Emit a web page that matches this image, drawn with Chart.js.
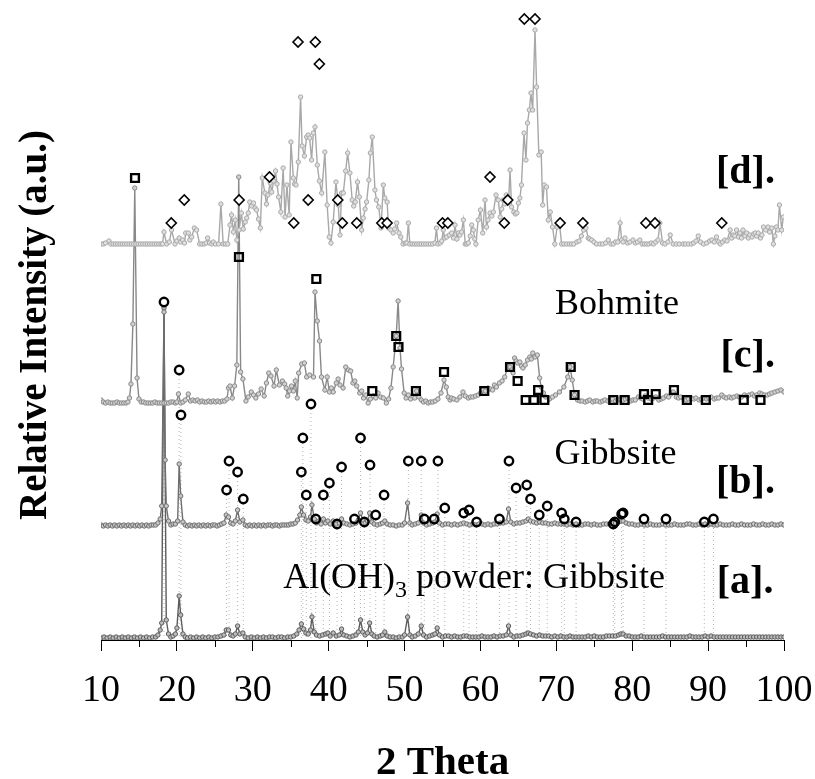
<!DOCTYPE html>
<html>
<head>
<meta charset="utf-8">
<script src="https://cdn.jsdelivr.net/npm/chart.js@4/dist/chart.umd.min.js"></script>
<style>
  html, body { margin: 0; padding: 0; background: #fff; }
  #xrd { display: block; }
</style>
</head>
<body>
<canvas id="xrd" width="815" height="779"></canvas>
<script>
// XRD patterns [a]..[d], stacked. Each pattern: [2θ, height above its own baseline]
const offsets = { a: 2, b: 113, c: 237, d: 396 };

const patternA = [[10.0,0],[10.4,1],[10.8,0],[11.2,1],[11.6,0],[12.0,1],[12.4,0],[12.8,1],[13.2,0],[13.6,1],[14.0,0],[14.4,1],[14.8,0],[15.2,1],[15.6,0],[16.0,1],[16.4,0],[16.8,1],[17.2,1],[17.5,3],[17.8,8],[18.0,15],[18.3,330],[18.6,18],[18.9,4],[19.2,1],[19.5,2],[19.8,4],[20.0,10],[20.3,42],[20.5,23],[20.8,4],[21.1,1],[21.4,0],[21.8,1],[22.2,0],[22.6,1],[23.0,0],[23.4,1],[23.8,0],[24.2,1],[24.6,0],[25.0,1],[25.4,1],[25.8,2],[26.2,3],[26.5,8],[26.8,8],[27.1,3],[27.4,2],[27.7,4],[28.0,12],[28.3,4],[28.7,5],[29.0,1],[29.4,0],[29.8,1],[30.2,0],[30.6,1],[31.0,0],[31.4,1],[31.8,0],[32.2,1],[32.6,1],[33.0,0],[33.4,1],[33.8,1],[34.2,0],[34.6,1],[35.0,1],[35.4,2],[35.8,4],[36.1,8],[36.4,14],[36.7,9],[37.0,5],[37.3,4],[37.6,8],[37.8,21],[38.1,6],[38.4,3],[38.8,2],[39.2,3],[39.6,4],[39.9,5],[40.2,2],[40.6,5],[41.0,2],[41.4,3],[41.7,9],[42.0,3],[42.4,2],[42.8,1],[43.2,2],[43.6,3],[43.9,6],[44.2,18],[44.5,6],[44.8,3],[45.1,5],[45.4,15],[45.7,4],[46.0,2],[46.4,1],[46.8,2],[47.1,3],[47.4,6],[47.7,2],[48.1,1],[48.5,1],[48.9,0],[49.3,1],[49.7,1],[50.0,3],[50.4,21],[50.7,3],[51.0,1],[51.4,2],[51.8,4],[52.2,12],[52.5,3],[52.9,1],[53.3,2],[53.7,3],[54.0,4],[54.3,10],[54.6,3],[55.0,1],[55.4,2],[55.8,2],[56.2,1],[56.6,2],[57.0,1],[57.4,1],[57.8,2],[58.2,2],[58.6,1],[59.0,1],[59.4,1],[59.8,1],[60.2,2],[60.6,1],[61.0,1],[61.4,1],[61.8,2],[62.2,1],[62.6,2],[63.0,2],[63.4,3],[63.7,12],[64.0,3],[64.4,1],[64.8,2],[65.2,2],[65.6,3],[66.0,4],[66.3,5],[66.6,4],[67.0,3],[67.4,2],[67.8,3],[68.2,2],[68.6,2],[69.0,2],[69.4,1],[69.8,2],[70.2,1],[70.6,2],[71.0,1],[71.4,1],[71.8,2],[72.2,1],[72.6,1],[73.0,1],[73.4,1],[73.8,1],[74.2,2],[74.6,1],[75.0,2],[75.4,1],[75.8,1],[76.2,1],[76.6,2],[77.0,2],[77.4,2],[77.8,2],[78.2,3],[78.5,4],[78.8,4],[79.2,2],[79.6,2],[80.0,1],[80.4,1],[80.8,1],[81.2,2],[81.6,1],[82.0,1],[82.4,1],[82.8,1],[83.2,1],[83.6,1],[84.0,2],[84.4,1],[84.8,1],[85.2,1],[85.6,1],[86.0,1],[86.4,1],[86.8,1],[87.2,1],[87.6,2],[88.0,1],[88.4,1],[88.8,1],[89.2,1],[89.6,2],[90.0,1],[90.4,2],[90.8,1],[91.2,1],[91.6,1],[92.0,1],[92.4,1],[92.8,1],[93.2,1],[93.6,1],[94.0,1],[94.4,1],[94.8,1],[95.2,1],[95.6,1],[96.0,1],[96.4,1],[96.8,1],[97.2,1],[97.6,1],[98.0,1],[98.4,1],[98.8,1],[99.2,1],[99.6,1],[100,1]];

const patternB = [[10.0,2],[10.3,1],[10.6,2],[10.9,1],[11.2,2],[11.5,1],[11.8,2],[12.1,1],[12.4,2],[12.7,1],[13.0,2],[13.3,1],[13.6,2],[13.9,1],[14.2,2],[14.5,1],[14.8,2],[15.1,1],[15.4,2],[15.7,1],[16.0,2],[16.3,1],[16.6,2],[16.9,2],[17.2,2],[17.5,4],[17.8,8],[18.0,21],[18.3,215],[18.45,67],[18.6,21],[18.9,6],[19.2,2],[19.5,3],[19.8,3],[20.1,6],[20.3,63],[20.5,31],[20.8,5],[21.1,2],[21.4,1],[21.7,2],[22.0,1],[22.3,2],[22.6,1],[22.9,2],[23.2,1],[23.5,2],[23.8,1],[24.1,2],[24.4,1],[24.7,2],[25.0,2],[25.3,1],[25.6,2],[25.9,3],[26.2,4],[26.5,12],[26.8,10],[27.1,4],[27.4,3],[27.7,6],[28.0,17],[28.3,5],[28.7,7],[29.0,2],[29.3,1],[29.6,2],[29.9,1],[30.2,2],[30.5,1],[30.8,2],[31.1,1],[31.4,2],[31.7,1],[32.0,2],[32.3,2],[32.6,1],[32.9,2],[33.2,2],[33.5,1],[33.8,2],[34.1,2],[34.4,2],[34.7,2],[35.0,3],[35.3,3],[35.6,4],[35.9,7],[36.2,12],[36.4,20],[36.7,12],[37.0,7],[37.3,6],[37.6,10],[37.8,22],[38.1,8],[38.4,4],[38.7,6],[39.0,3],[39.3,8],[39.6,4],[39.9,6],[40.2,3],[40.6,6],[41.0,3],[41.4,4],[41.7,8],[42.0,4],[42.4,3],[42.8,2],[43.2,3],[43.6,4],[43.9,7],[44.2,14],[44.5,7],[44.8,4],[45.1,6],[45.4,14],[45.7,5],[46.0,3],[46.4,2],[46.8,3],[47.1,4],[47.4,6],[47.7,3],[48.1,2],[48.5,2],[48.9,1],[49.3,2],[49.7,2],[50.0,4],[50.4,24],[50.7,4],[51.0,2],[51.4,3],[51.8,4],[52.2,12],[52.5,4],[52.9,2],[53.3,3],[53.7,4],[54.0,5],[54.3,13],[54.6,4],[55.0,2],[55.4,3],[55.8,3],[56.2,2],[56.6,3],[57.0,2],[57.4,3],[57.8,4],[58.2,3],[58.6,2],[59.0,3],[59.4,2],[59.8,3],[60.2,3],[60.6,2],[61.0,3],[61.4,2],[61.8,3],[62.2,3],[62.6,4],[63.0,4],[63.4,5],[63.7,18],[64.0,5],[64.4,3],[64.8,4],[65.2,4],[65.6,5],[66.0,6],[66.3,8],[66.6,6],[67.0,5],[67.4,4],[67.8,5],[68.2,4],[68.6,4],[69.0,3],[69.4,3],[69.8,4],[70.2,3],[70.6,3],[71.0,3],[71.4,2],[71.8,3],[72.2,2],[72.6,3],[73.0,2],[73.4,2],[73.8,3],[74.2,3],[74.6,2],[75.0,3],[75.4,2],[75.8,2],[76.2,3],[76.6,3],[77.0,3],[77.4,4],[77.8,4],[78.2,5],[78.5,6],[78.8,6],[79.2,4],[79.6,3],[80.0,3],[80.4,2],[80.8,2],[81.2,3],[81.6,2],[82.0,2],[82.4,3],[82.8,2],[83.2,2],[83.6,2],[84.0,3],[84.4,2],[84.8,2],[85.2,2],[85.6,3],[86.0,2],[86.4,2],[86.8,2],[87.2,3],[87.6,3],[88.0,2],[88.4,2],[88.8,3],[89.2,2],[89.6,3],[90.0,2],[90.4,3],[90.8,2],[91.2,2],[91.6,3],[92.0,2],[92.4,2],[92.8,2],[93.2,3],[93.6,2],[94.0,2],[94.4,3],[94.8,2],[95.2,2],[95.6,2],[96.0,3],[96.4,2],[96.8,2],[97.2,3],[97.6,2],[98.0,2],[98.4,3],[98.8,2],[99.2,2],[99.6,3],[100,2]];

const patternC = [[10.0,3],[10.3,1],[10.6,0],[10.9,1],[11.2,0],[11.5,0],[11.8,0],[12.1,1],[12.4,0],[12.7,0],[13.0,0],[13.3,0],[13.55,1],[13.75,5],[13.95,19],[14.2,79],[14.45,215],[14.75,25],[15.0,4],[15.3,1],[15.6,1],[15.9,0],[16.2,0],[16.5,0],[16.8,0],[17.1,1],[17.4,0],[17.7,0],[18.0,0],[18.3,0],[18.6,0],[18.9,0],[19.2,1],[19.5,1],[19.8,0],[20.0,1],[20.2,9],[20.5,0],[20.8,1],[21.1,3],[21.5,9],[21.8,2],[22.1,3],[22.4,2],[22.7,3],[23.0,1],[23.3,2],[23.6,1],[23.9,1],[24.2,2],[24.5,1],[24.8,2],[25.1,1],[25.4,2],[25.7,1],[26.0,2],[26.3,2],[26.6,4],[26.8,15],[27.0,17],[27.3,5],[27.6,17],[27.9,38],[28.15,226],[28.4,31],[28.7,24],[29.1,2],[29.4,6],[29.8,11],[30.1,8],[30.4,5],[30.75,9],[31.1,14],[31.5,7],[31.8,20],[32.1,30],[32.4,27],[32.8,17],[33.1,33],[33.5,18],[33.9,22],[34.2,19],[34.4,15],[34.6,7],[34.85,12],[35.1,17],[35.35,12],[35.6,22],[35.85,5],[36.05,30],[36.45,39],[36.8,40],[37.1,26],[37.5,28],[38.0,26],[38.2,111],[38.5,82],[38.8,62],[39.05,26],[39.5,13],[39.8,26],[40.1,11],[40.35,15],[40.6,11],[41.0,20],[41.25,24],[41.5,18],[41.9,15],[42.25,36],[42.6,33],[42.9,32],[43.2,20],[43.45,22],[43.7,17],[44.1,10],[44.35,12],[44.6,5],[44.9,8],[45.2,0],[45.5,4],[45.9,7],[46.2,5],[46.5,10],[46.85,6],[47.2,5],[47.6,0],[47.9,4],[48.2,15],[48.5,36],[48.9,67],[49.15,102],[49.4,55],[49.6,34],[49.95,10],[50.2,5],[50.5,8],[50.8,4],[51.1,7],[51.35,5],[51.6,12],[51.9,6],[52.2,3],[52.5,1],[52.8,2],[53.1,0],[53.4,1],[53.7,1],[54.05,2],[54.4,4],[54.8,10],[55.2,23],[55.5,16],[55.75,6],[56.0,3],[56.2,5],[56.5,4],[56.9,3],[57.3,6],[57.7,11],[58.0,7],[58.4,5],[58.7,6],[59.0,6],[59.35,7],[59.7,8],[60.0,10],[60.3,13],[60.65,12],[61.0,15],[61.3,14],[61.6,13],[61.85,18],[62.1,16],[62.5,20],[62.85,22],[63.2,26],[63.6,36],[63.9,36],[64.1,33],[64.3,30],[64.5,45],[64.7,42],[64.9,40],[65.2,41],[65.4,37],[65.6,35],[65.9,38],[66.2,43],[66.5,46],[66.7,44],[66.9,50],[67.2,46],[67.5,48],[67.8,25],[68.0,16],[68.3,10],[68.6,6],[69.1,4],[69.5,6],[69.9,8],[70.4,11],[71.0,16],[71.5,26],[71.8,36],[72.1,23],[72.4,8],[72.8,3],[73.1,2],[73.4,2],[73.8,1],[74.1,2],[74.4,3],[74.8,1],[75.1,2],[75.4,2],[75.8,1],[76.1,2],[76.4,3],[76.8,2],[77.1,3],[77.4,4],[77.8,2],[78.1,3],[78.4,4],[78.8,3],[79.1,4],[79.4,5],[79.8,2],[80.1,3],[80.4,3],[80.8,6],[81.1,5],[81.4,4],[81.7,7],[82.1,5],[82.5,4],[82.8,5],[83.1,6],[83.5,3],[83.8,4],[84.1,5],[84.5,7],[84.8,6],[85.1,9],[85.4,11],[85.8,6],[86.1,5],[86.4,6],[86.8,4],[87.1,3],[87.4,4],[87.8,5],[88.1,4],[88.4,5],[88.8,3],[89.1,4],[89.4,5],[89.8,4],[90.1,5],[90.4,6],[90.8,4],[91.1,5],[91.4,5],[91.8,8],[92.1,6],[92.4,5],[92.8,6],[93.1,5],[93.4,6],[93.8,7],[94.1,6],[94.4,6],[94.8,8],[95.1,7],[95.4,8],[95.8,9],[96.1,7],[96.4,8],[96.8,10],[97.1,9],[97.4,8],[97.8,8],[98.1,9],[98.4,10],[98.8,11],[99.2,12],[99.6,13],[100,11]];

const patternD = [[10.0,0],[10.3,0],[10.6,1],[11.05,3],[11.3,0],[11.6,0],[11.9,0],[12.2,0],[12.5,0],[12.8,0],[13.1,0],[13.4,0],[13.7,0],[14.0,0],[14.3,0],[14.6,0],[14.9,0],[15.2,0],[15.5,0],[15.8,0],[16.1,0],[16.4,0],[16.7,0],[17.0,0],[17.3,0],[17.6,0],[17.9,0],[18.1,0],[18.3,12],[18.65,0],[19.0,2],[19.3,14],[19.75,0],[20.0,3],[20.3,6],[20.5,2],[20.76,4],[21.0,1],[21.16,11],[21.5,11],[21.7,4],[21.95,7],[22.3,16],[22.6,14],[23.0,0],[23.3,0],[23.6,0],[23.85,1],[24.05,6],[24.3,1],[24.6,0],[24.8,2],[25.1,0],[25.5,0],[25.8,40],[26.1,0],[26.4,0],[26.7,0],[27.0,19],[27.2,29],[27.45,12],[27.7,24],[27.9,4],[28.2,14],[28.5,31],[28.75,15],[29.0,22],[29.2,26],[29.4,31],[29.6,42],[29.85,38],[30.1,41],[30.3,36],[30.5,34],[30.75,25],[31.0,16],[31.25,66],[31.6,51],[31.8,40],[32.0,49],[32.3,61],[32.5,52],[32.75,63],[33.0,73],[33.2,60],[33.4,47],[33.7,32],[34.0,76],[34.25,27],[34.5,59],[34.8,29],[35.03,102],[35.35,66],[35.5,60],[35.7,59],[36.0,82],[36.3,147],[36.5,98],[36.8,88],[37.1,107],[37.3,109],[37.5,106],[37.75,84],[37.98,111],[38.2,117],[38.5,79],[38.77,63],[39.08,51],[39.5,92],[39.8,39],[40.08,7],[40.3,1],[40.6,22],[40.96,62],[41.27,39],[41.5,9],[41.7,51],[41.93,51],[42.24,73],[42.5,91],[42.8,71],[43.1,44],[43.3,38],[43.5,42],[43.8,62],[44.04,47],[44.35,14],[44.56,26],[44.8,35],[45.0,42],[45.3,64],[45.5,91],[45.75,107],[46.1,54],[46.3,44],[46.6,37],[46.9,16],[47.2,59],[47.4,46],[47.7,42],[47.9,16],[48.2,14],[48.5,11],[48.7,15],[48.96,21],[49.27,11],[49.5,7],[49.8,0],[50.1,1],[50.3,1],[50.5,21],[50.7,0],[51.0,0],[51.3,0],[51.6,0],[51.9,0],[52.2,0],[52.5,0],[52.8,0],[53.1,0],[53.4,0],[53.7,0],[54.0,1],[54.2,16],[54.4,0],[54.7,1],[54.9,3],[55.1,14],[55.3,6],[55.55,7],[55.9,9],[56.2,11],[56.45,6],[56.65,19],[56.9,5],[57.1,11],[57.3,9],[57.5,12],[57.75,24],[58.0,0],[58.2,0],[58.4,1],[58.65,8],[58.85,19],[59.06,14],[59.25,5],[59.4,0],[59.7,24],[60.0,34],[60.3,11],[60.6,44],[60.8,17],[61.0,24],[61.26,31],[61.5,28],[61.7,32],[62.05,49],[62.35,44],[62.6,27],[62.8,35],[63.0,44],[63.2,40],[63.4,49],[63.7,42],[63.9,74],[64.1,37],[64.4,32],[64.6,30],[64.8,31],[65.0,41],[65.2,46],[65.4,59],[65.74,111],[66.0,84],[66.2,121],[66.44,134],[66.66,151],[66.88,134],[67.19,214],[67.4,157],[67.7,89],[68.0,92],[68.2,39],[68.4,59],[68.7,57],[68.94,24],[69.2,32],[69.5,17],[69.8,0],[70.1,17],[70.4,21],[70.7,0],[71.0,0],[71.36,0],[71.7,0],[72.0,0],[72.3,0],[72.7,2],[73.0,3],[73.3,8],[73.6,14],[73.9,16],[74.2,6],[74.4,5],[74.65,4],[74.96,2],[75.3,0],[75.75,0],[76.1,0],[76.5,1],[76.85,4],[77.2,0],[77.5,0],[77.8,2],[78.1,2],[78.4,21],[78.6,4],[78.8,2],[79.05,6],[79.4,1],[79.7,2],[80.1,4],[80.4,1],[80.7,2],[81.0,4],[81.3,0],[81.6,0],[81.9,0],[82.2,0],[82.5,1],[82.8,0],[83.1,2],[83.4,4],[83.65,21],[84.0,1],[84.3,0],[84.7,2],[85.0,9],[85.4,0],[85.8,0],[86.2,0],[86.7,0],[87.0,0],[87.4,0],[87.8,0],[88.1,1],[88.4,3],[88.7,8],[89.0,2],[89.4,0],[89.8,1],[90.2,3],[90.5,4],[90.8,2],[91.1,7],[91.4,2],[91.6,0],[91.9,2],[92.2,4],[92.5,3],[92.9,14],[93.1,6],[93.3,9],[93.5,8],[93.75,14],[94.0,7],[94.2,11],[94.4,6],[94.6,14],[94.85,8],[95.1,11],[95.3,6],[95.5,9],[95.8,7],[96.0,10],[96.2,11],[96.4,8],[96.6,11],[96.9,6],[97.1,9],[97.3,17],[97.6,14],[97.9,17],[98.1,12],[98.4,16],[98.6,0],[98.8,8],[99.0,17],[99.2,14],[99.4,39],[99.7,14],[99.9,27]];

// phase markers, absolute y on the stacked scale
const gibbsiteMarks = [[18.3,338],[20.3,270],[20.54,225],[37.67,236],[26.55,150],[26.87,179],[28.0,168],[28.75,141],[36.4,168],[36.6,202],[37.05,145],[38.3,121],[39.3,145],[40.1,157],[41.1,116],[41.7,173],[43.4,121],[44.2,202],[44.7,118],[45.45,175],[46.2,125],[47.3,145],[50.5,179],[52.2,179],[52.6,121],[53.9,121],[54.4,179],[55.3,132],[57.8,127],[58.5,130],[59.5,118],[62.5,121],[63.76,179],[64.7,152],[66.1,155],[66.6,141],[67.75,125],[68.8,134],[70.7,127],[71.05,121],[72.6,118],[77.5,116],[77.7,118],[78.6,126],[78.8,127],[81.55,121],[84.45,121],[89.5,118],[90.7,121]];
const bohmiteMarks = [[14.48,462],[28.18,383],[38.37,361],[45.75,249],[48.9,304],[49.2,293],[51.5,249],[55.2,268],[60.5,249],[63.9,273],[64.9,259],[65.96,240],[67.06,240],[68.42,240],[67.6,250],[71.9,273],[72.4,245],[77.5,240],[79.0,240],[81.55,246],[83.1,246],[82.1,240],[85.5,250],[87.2,240],[89.7,240],[94.7,240],[96.9,240]];
const diamondMarks = [[19.26,417],[20.97,440],[28.2,440],[32.2,463],[35.4,417],[35.96,598],[37.3,440],[38.24,598],[38.77,576],[41.2,440],[41.8,417],[43.7,417],[47.0,417],[47.7,417],[55.0,417],[55.7,417],[61.26,463],[63.14,417],[63.6,440],[65.78,621],[67.19,621],[70.5,417],[73.5,417],[81.8,417],[83.0,417],[91.8,417]];

const xTicks = [10, 20, 30, 40, 50, 60, 70, 80, 90, 100];
const minorTicks = [15, 25, 35, 45, 55, 65, 75, 85, 95];

// text annotations in data coords (x, baseline y)
const tags = [
  { text: '[d].', x: 98.8, y: 457, align: 'right', bold: true },
  { text: '[c].', x: 98.8, y: 273, align: 'right', bold: true },
  { text: '[b].', x: 98.8, y: 147, align: 'right', bold: true },
  { text: '[a].', x: 98.6, y: 47, align: 'right', bold: true },
  { text: 'Bohmite', x: 78.0, y: 326, align: 'center', bold: false },
  { text: 'Gibbsite', x: 77.8, y: 176, align: 'center', bold: false },
];
const powderTag = { x: 34.0, y: 52 };

const SERIF = '"Liberation Serif", "Times New Roman", serif';

const toPts = (arr, off) => arr.map(p => ({ x: p[0], y: p[1] + off }));
const dropLines = [];
for (const m of gibbsiteMarks) {
  dropLines.push({ x: m[0], y: m[1] - 5 }, { x: m[0], y: 2 }, { x: m[0], y: null });
}

function patternSet(label, arr, off, color, fill, order) {
  return {
    label, data: toPts(arr, off), borderColor: color, borderWidth: 1.4,
    pointRadius: 2.2, pointBorderWidth: 1, pointBorderColor: color, pointBackgroundColor: fill,
    pointStyle: 'circle', tension: 0, order,
  };
}

const minorTickPlugin = {
  id: 'minorTicks',
  afterDraw(chart) {
    const xs = chart.scales.x, ctx = chart.ctx;
    ctx.save();
    ctx.strokeStyle = '#000'; ctx.lineWidth = 1;
    for (const v of minorTicks) {
      const px = Math.round(xs.getPixelForValue(v)) + 0.5;
      ctx.beginPath(); ctx.moveTo(px, xs.top); ctx.lineTo(px, xs.top + 7); ctx.stroke();
    }
    ctx.restore();
  }
};

const tagPlugin = {
  id: 'tags',
  afterDraw(chart) {
    const xs = chart.scales.x, ys = chart.scales.y, ctx = chart.ctx;
    ctx.save();
    ctx.fillStyle = '#000'; ctx.textBaseline = 'alphabetic';
    for (const t of tags) {
      ctx.font = (t.bold ? 'bold 40px ' : '36px ') + SERIF;
      ctx.textAlign = t.align;
      ctx.fillText(t.text, xs.getPixelForValue(t.x), ys.getPixelForValue(t.y));
    }
    // Al(OH)3 powder: Gibbsite with subscript
    let px = xs.getPixelForValue(powderTag.x);
    const py = ys.getPixelForValue(powderTag.y);
    ctx.textAlign = 'left';
    ctx.font = '36px ' + SERIF;
    ctx.fillText('Al(OH)', px, py);
    px += ctx.measureText('Al(OH)').width;
    ctx.font = '24px ' + SERIF;
    ctx.fillText('3', px, py + 9);
    px += ctx.measureText('3').width;
    ctx.font = '36px ' + SERIF;
    ctx.fillText(' powder: Gibbsite', px, py);
    ctx.restore();
  }
};

new Chart(document.getElementById('xrd'), {
  type: 'line',
  data: {
    datasets: [
      { label: 'drop', data: dropLines, borderColor: '#b4b4b4', borderWidth: 1, borderDash: [1, 3],
        pointRadius: 0, spanGaps: false, order: 6 },
      patternSet('[a]', patternA, offsets.a, '#5c5c5c', '#bdbdbd', 5),
      patternSet('[b]', patternB, offsets.b, '#6e6e6e', '#c8c8c8', 4),
      patternSet('[c]', patternC, offsets.c, '#888888', '#d2d2d2', 3),
      patternSet('[d]', patternD, offsets.d, '#a8a8a8', '#e0e0e0', 2),
      { label: 'gibbsite', data: toPts(gibbsiteMarks, 0), showLine: false, pointStyle: 'circle',
        pointRadius: 4.2, pointBorderWidth: 2.4, pointBorderColor: '#000', pointBackgroundColor: 'rgba(255,255,255,0)', order: 1 },
      { label: 'bohmite', data: toPts(bohmiteMarks, 0), showLine: false, pointStyle: 'rect',
        pointRadius: 5.5, pointBorderWidth: 2.4, pointBorderColor: '#000', pointBackgroundColor: 'rgba(255,255,255,0)', order: 1 },
      { label: 'diamond', data: toPts(diamondMarks, 0), showLine: false, pointStyle: 'rectRot',
        pointRadius: 5, pointBorderWidth: 1.6, pointBorderColor: '#000', pointBackgroundColor: '#fff', order: 0 },
    ],
  },
  options: {
    responsive: false, animation: false, events: [],
    layout: { padding: { top: 10, right: 31, left: 0, bottom: 0 } },
    plugins: { legend: { display: false }, tooltip: { enabled: false } },
    scales: {
      x: {
        type: 'linear', min: 10, max: 100,
        afterBuildTicks: (s) => { s.ticks = xTicks.map(v => ({ value: v })); },
        afterFit: (s) => { s.height = 139; s.paddingLeft = 0; s.paddingRight = 0; },
        ticks: { font: { family: SERIF, size: 38 }, color: '#000', padding: 17, maxRotation: 0, autoSkip: false },
        grid: { drawOnChartArea: false, tickLength: 11, color: '#000', tickColor: '#000' },
        border: { display: true, color: '#000', width: 1 },
        title: { display: true, text: '2 Theta', color: '#000', font: { family: SERIF, size: 41, weight: 'bold', lineHeight: 1 }, padding: { top: 0, bottom: -5 } },
      },
      y: {
        min: 0, max: 630,
        afterFit: (s) => { s.width = 101; s.paddingTop = 0; s.paddingBottom = 0; },
        ticks: { display: false },
        grid: { display: false },
        border: { display: false },
        title: { display: true, text: 'Relative Intensity (a.u.)', color: '#000', font: { family: SERIF, size: 39, weight: 'bold', lineHeight: 1 }, padding: { top: 16, bottom: 0 } },
      },
    },
  },
  plugins: [minorTickPlugin, tagPlugin],
});
</script>
</body>
</html>
